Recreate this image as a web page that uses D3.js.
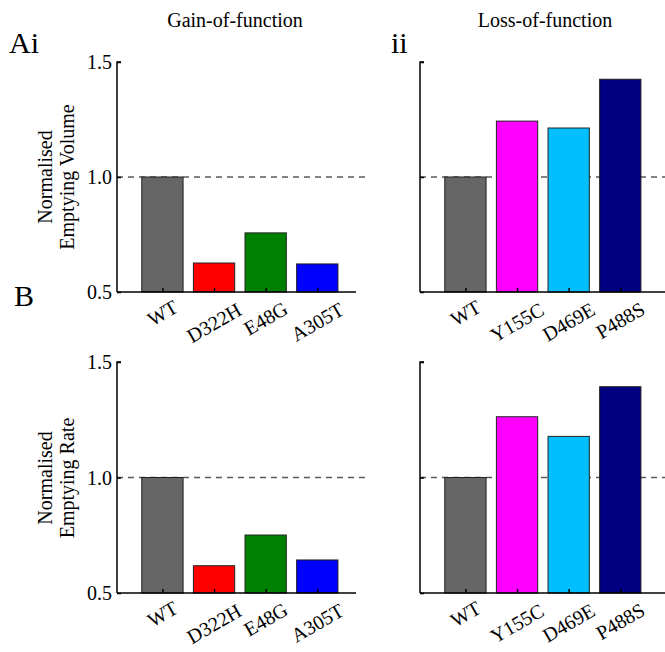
<!DOCTYPE html>
<html>
<head>
<meta charset="utf-8">
<script src="https://cdn.jsdelivr.net/npm/d3@7"></script>
<style>
  body { margin: 0; background: #fff; }
  svg { display: block; font-family: "Liberation Serif", "Times New Roman", serif; }
</style>
</head>
<body>
<div id="chart"></div>
<script>
// data
var gainLabels = ["WT", "D322H", "E48G", "A305T"];
var gainColors = ["#666666", "#ff0000", "#008000", "#0000ff"];
var lossLabels = ["WT", "Y155C", "D469E", "P488S"];
var lossColors = ["#666666", "#ff00ff", "#00bfff", "#000080"];

var gainVolume = [1.0, 0.626, 0.757, 0.622];
var lossVolume = [1.0, 1.243, 1.213, 1.425];
var gainRate = [1.0, 0.618, 0.751, 0.643];
var lossRate = [1.0, 1.263, 1.178, 1.393];

var yTicks = [0.5, 1.0, 1.5];

var W = 665, H = 652;
var svg = d3.select('#chart').append('svg').attr('width', W).attr('height', H);

// one panel of bars
function panel(opts){
  var g = svg.append('g');
  var x = d3.scaleLinear().domain([0.12, 4.75]).range([opts.left, opts.left + 239]);
  var y = d3.scaleLinear().domain([0.5, 1.5]).range([opts.bottom, opts.top]);
  var data = opts.values.map(function(v, i){ return {v: v, c: opts.colors[i], l: opts.labels[i], pos: i + 1}; });
  var bw = x(1.8) - x(1);

  // reference line at 1.0
  g.append('line')
    .attr('x1', x(0.12)).attr('x2', opts.dashEnd)
    .attr('y1', y(1)).attr('y2', y(1))
    .style('stroke', '#5a5a5a').style('stroke-width', 1.5)
    .style('stroke-dasharray', '6,5');

  g.selectAll('rect.bar').data(data).enter().append('rect')
    .attr('class', 'bar')
    .attr('x', function(d){ return x(d.pos) - bw / 2; })
    .attr('width', bw)
    .attr('y', function(d){ return y(d.v); })
    .attr('height', function(d){ return y(0.5) - y(d.v); })
    .style('fill', function(d){ return d.c; })
    .style('stroke', '#222').style('stroke-width', 1);

  // axes, ticks inward like matlab
  var yAxis = d3.axisRight(y).tickValues(yTicks).tickSize(4).tickFormat('');
  g.append('g').attr('transform', 'translate(' + x(0.12) + ',0)').call(yAxis)
    .call(function(s){ s.select('.domain').attr('d', 'M4,' + y(1.5) + 'H0V' + y(0.5)); })
    .selectAll('path,line').style('stroke', '#000').style('stroke-width', 1.5);

  var xAxis = d3.axisTop(x).tickValues([1, 2, 3, 4]).tickSize(4).tickFormat('');
  g.append('g').attr('transform', 'translate(0,' + y(0.5) + ')').call(xAxis)
    .call(function(s){ s.select('.domain').attr('d', 'M' + x(0.12) + ',0H' + opts.axisEnd); })
    .selectAll('path,line').style('stroke', '#000').style('stroke-width', 1.5);

  if (opts.tickLabels) {
    g.selectAll('text.ytl').data(yTicks).enter().append('text')
      .attr('class', 'ytl')
      .attr('x', x(0.12) - 5)
      .attr('y', function(d){ return y(d) + 7; })
      .attr('text-anchor', 'end')
      .style('font-size', '20px')
      .text(function(d){ return d.toFixed(1); });
  }

  // rotated category labels
  g.selectAll('text.xl').data(data).enter().append('text')
    .attr('class', 'xl')
    .attr('text-anchor', 'middle')
    .attr('dy', '0.35em')
    .style('font-size', '20px')
    .text(function(d){ return d.l; })
    .attr('transform', function(d){
      var off = 10 + 0.35 * this.getComputedTextLength();
      return 'translate(' + x(d.pos) + ',' + (y(0.5) + off) + ') rotate(-30)';
    });
}

panel({left: 117, top: 62, bottom: 292, axisEnd: 356, dashEnd: 365, values: gainVolume, colors: gainColors, labels: gainLabels, tickLabels: true});
panel({left: 420, top: 62, bottom: 292, axisEnd: 680, dashEnd: 680, values: lossVolume, colors: lossColors, labels: lossLabels, tickLabels: false});
panel({left: 117, top: 362, bottom: 593, axisEnd: 356, dashEnd: 365, values: gainRate, colors: gainColors, labels: gainLabels, tickLabels: true});
panel({left: 420, top: 362, bottom: 593, axisEnd: 680, dashEnd: 680, values: lossRate, colors: lossColors, labels: lossLabels, tickLabels: false});

// titles and panel letters
svg.append('text').attr('x', 235).attr('y', 27).attr('text-anchor', 'middle').style('font-size', '20px').text('Gain-of-function');
svg.append('text').attr('x', 545).attr('y', 27).attr('text-anchor', 'middle').style('font-size', '20px').text('Loss-of-function');
svg.append('text').attr('x', 9).attr('y', 53).style('font-size', '30px').text('Ai');
svg.append('text').attr('x', 391).attr('y', 53).style('font-size', '30px').text('ii');
svg.append('text').attr('x', 14).attr('y', 306).style('font-size', '30px').text('B');

// y titles
function yTitle(cy, lines){
  var t = svg.append('text').attr('text-anchor', 'middle').style('font-size', '20px')
    .attr('transform', 'translate(52,' + cy + ') rotate(-90)');
  t.selectAll('tspan').data(lines).enter().append('tspan')
    .attr('x', 0).attr('dy', function(d, i){ return i ? 22 : 0; })
    .text(function(d){ return d; });
}
yTitle(177, ["Normalised", "Emptying Volume"]);
yTitle(478, ["Normalised", "Emptying Rate"]);
</script>
</body>
</html>
